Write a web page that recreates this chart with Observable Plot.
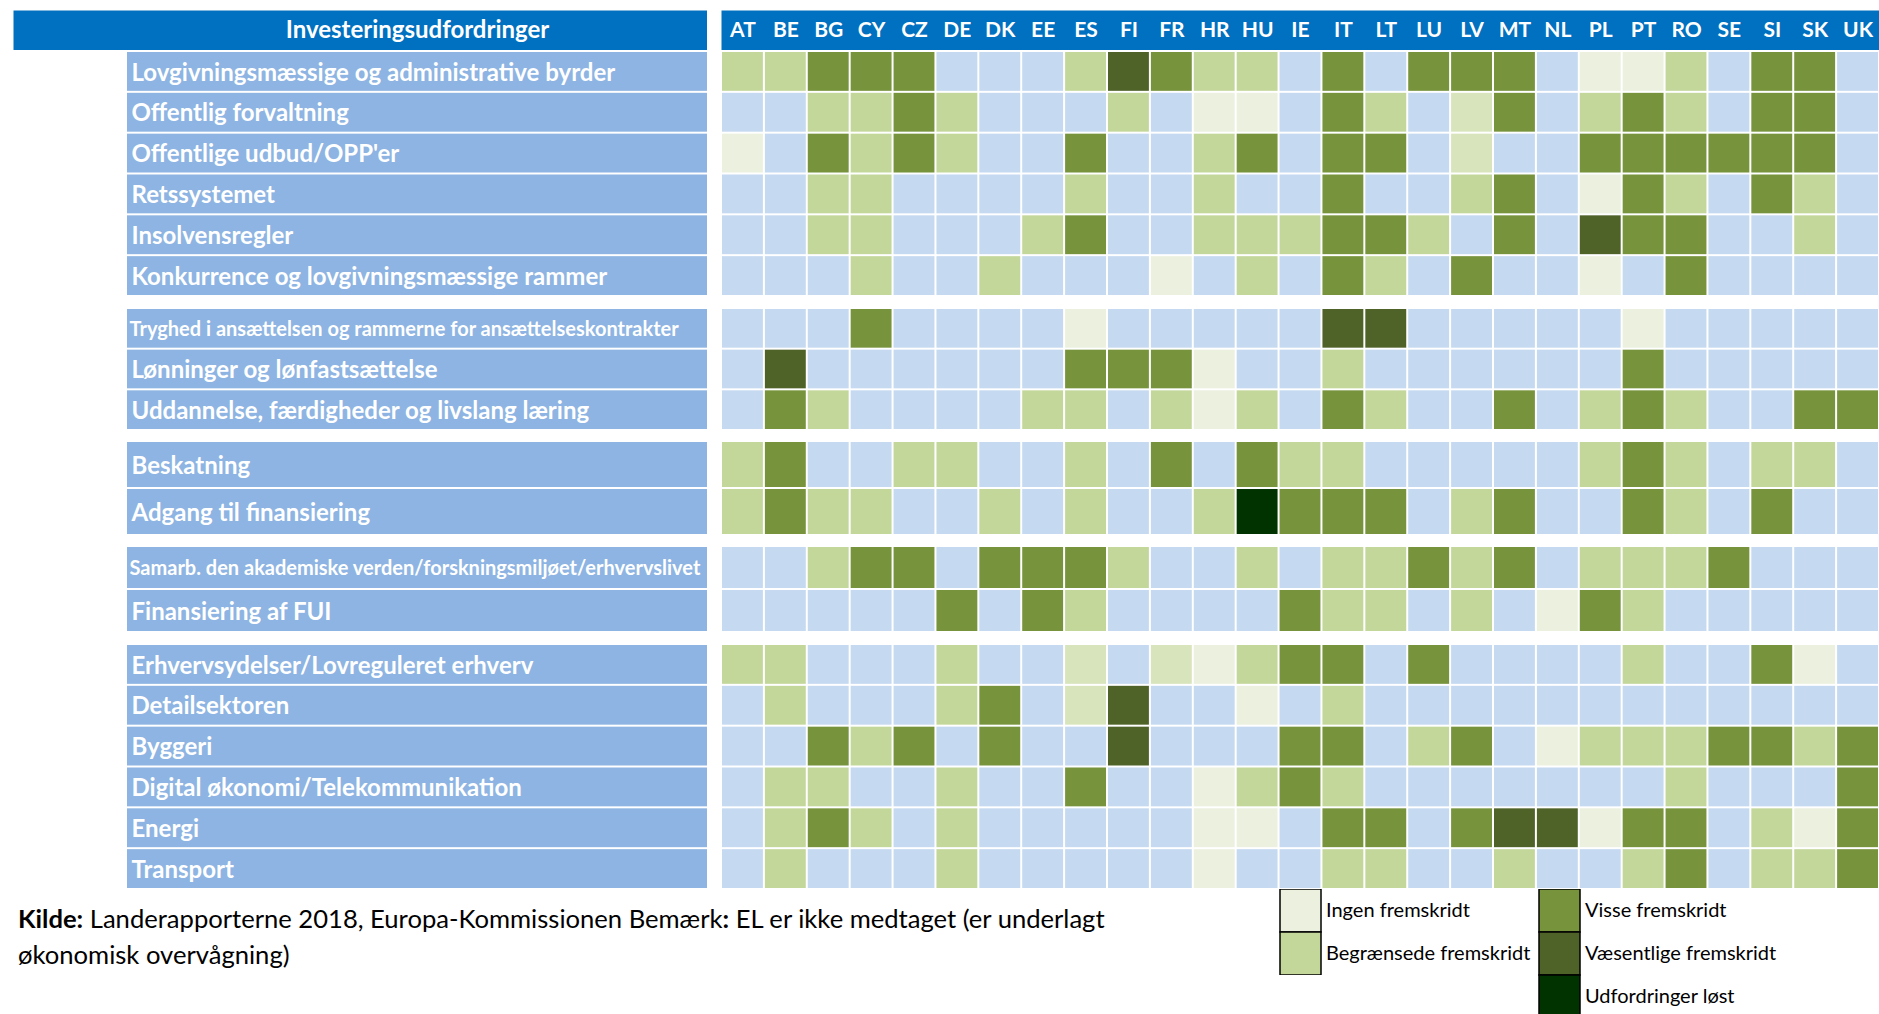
<!DOCTYPE html>
<html><head><meta charset="utf-8">
<script src="https://cdn.jsdelivr.net/npm/d3@7"></script>
<script src="https://cdn.jsdelivr.net/npm/@observablehq/plot@0.6"></script>
<style>
body{margin:0;background:#fff;}
#chart{position:relative;width:1879px;height:1014px;overflow:hidden;font-family:Lato,"Open Sans",sans-serif;}
#foot{position:absolute;left:18px;top:900px;font-size:25.6px;line-height:36px;color:#000;font-family:Lato,sans-serif;white-space:nowrap;}
</style></head><body><div id="chart"></div>
<script>
// ---------- data ----------
const countries = ["AT","BE","BG","CY","CZ","DE","DK","EE","ES","FI","FR","HR","HU","IE","IT","LT","LU","LV","MT","NL","PL","PT","RO","SE","SI","SK","UK"];
const headerTitle = "Investeringsudfordringer";

// status codes per country (same order as countries)
// "-" = no challenge, i = Ingen, h = (lighter) Begrænsede, l = Begrænsede, v = Visse, s = Væsentlige, u = Udfordringer løst
const group1Rows = ["Lovgivningsmæssige og administrative byrder","Offentlig forvaltning","Offentlige udbud/OPP'er","Retssystemet","Insolvensregler","Konkurrence og lovgivningsmæssige rammer"];
const group1Status = [
  "llvvv---lsvll-v-vvv-iil-vv-",
  "--llvl---l-ii-vl-hv-lvl-vv-",
  "i-vlvl--v--lv-vv-h--vvvvvv-",
  "--ll----l--l--v--lv-ivl-vl-",
  "--ll---lv--lllvvl-v-svv--l-",
  "---l--l---i-l-vl-v--i-v----"
];
const group2Rows = ["Tryghed i ansættelsen og rammerne for ansættelseskontrakter","Lønninger og lønfastsættelse","Uddannelse, færdigheder og livslang læring"];
const group2Status = [
  "---v----i-----ss-----i-----",
  "-s------vvvi--l------v-----",
  "-vl----ll-lil-vl--v-lvl--vv"
];
const group3Rows = ["Beskatning","Adgang til finansiering"];
const group3Status = [
  "lv--ll--l-v-vll-----lvl-ll-",
  "lvll--l-l--luvvv-lv--vl-v--"
];
const group4Rows = ["Samarb. den akademiske verden/forskningsmiljøet/erhvervslivet","Finansiering af FUI"];
const group4Status = [
  "--lvv-vvvl--l-llvlv-lllv---",
  "-----v-vl----vll-l-ivl-----"
];
const group5Rows = ["Erhvervsydelser/Lovreguleret erhverv","Detailsektoren","Byggeri","Digital økonomi/Telekommunikation","Energi","Transport"];
const group5Status = [
  "ll---l--h-hilvv-v----l--vi-",
  "-l---lv-hs--i-l------------",
  "--vlv-v--s---vv-lv-illlvvlv",
  "-ll--l--v--ilvl-------l---v",
  "-lvl-l-----ii-vv-vssivv-liv",
  "-l---l-----i--ll--l--lv-llv"
];

const statusCodes  = ["-","i","h","l","v","s","u"];
const statusColors = ["#C5D9F1","#EBF1DE","#D8E4BC","#C4D79B","#77933C","#4F6228","#003300"];

const legendCol1Codes = ["i","l"];
const legendCol1Labels = ["Ingen fremskridt","Begrænsede fremskridt"];
const legendCol2Codes = ["v","s","u"];
const legendCol2Labels = ["Visse fremskridt","Væsentlige fremskridt","Udfordringer løst"];

const footBold = "Kilde:";
const footText1 = " Landerapporterne 2018, Europa-Kommissionen Bemærk";
const footBold2 = ":";
const footText2 = " EL er ikke medtaget (er underlagt";
const footText3 = "økonomisk overvågning)";

// ---------- layout ----------
const chart = document.getElementById("chart");
function place(el, left, top){ el.style.position="absolute"; el.style.left=left+"px"; el.style.top=top+"px"; el.style.maxWidth="none"; chart.append(el); }
const colorScale = {domain: statusCodes, range: statusColors};
const FONT = "Lato";

// header left
place(Plot.plot({
  width: 694, height: 40, margin: 0,
  marks: [
    Plot.frame({fill: "#0070C0", stroke: "none"}),
    Plot.text([headerTitle], {frameAnchor: "middle", dx: 57, text: d => d, fill: "white", fontWeight: "bold", fontSize: 24, fontFamily: FONT})
  ]
}), 13, 10);

// header right
place(Plot.plot({
  width: 1158, height: 40, margin: 0,
  x: {type: "band", domain: countries, padding: 0, round: false, axis: null},
  marks: [
    Plot.frame({fill: "#0070C0", stroke: "none"}),
    Plot.text(countries, {x: d => d, text: d => d, fill: "white", fontWeight: "bold", fontSize: 21, fontFamily: FONT})
  ]
}), 721, 10);

const groups = [
  {rows: group1Rows, status: group1Status, top: 51, height: 245},
  {rows: group2Rows, status: group2Status, top: 308, height: 122},
  {rows: group3Rows, status: group3Status, top: 441, height: 94},
  {rows: group4Rows, status: group4Status, top: 546, height: 86},
  {rows: group5Rows, status: group5Status, top: 644, height: 245}
];

for (const g of groups) {
  const data = g.rows.flatMap((r, i) => countries.map((c, j) => ({row: r, country: c, code: g.status[i][j]})));
  place(Plot.plot({
    width: 1158, height: g.height, margin: 0,
    x: {type: "band", domain: countries, padding: 0, round: false, axis: null},
    y: {type: "band", domain: g.rows, padding: 0, round: false, axis: null},
    color: colorScale,
    marks: [Plot.cell(data, {x: "country", y: "row", fill: "code", inset: 1})]
  }), 721, g.top);

  const big = g.rows.filter(r => r.length < 50);
  const small = g.rows.filter(r => r.length >= 50);
  place(Plot.plot({
    width: 580, height: g.height, margin: 0,
    y: {type: "band", domain: g.rows, padding: 0, round: false, axis: null},
    marks: [
      Plot.cell(g.rows, {y: d => d, fill: "#8DB4E2", insetTop: 1, insetBottom: 1}),
      Plot.text(big, {y: d => d, text: d => d, frameAnchor: "left", dx: 4, dy: 1, fill: "white", fontWeight: "bold", fontSize: 24, fontFamily: FONT}),
      Plot.text(small, {y: d => d, text: d => d, frameAnchor: "left", dx: 2, dy: 1, fill: "white", fontWeight: "bold", fontSize: 20, fontFamily: FONT})
    ]
  }), 127, g.top);
}

// legend
function legendCol(codes, labels, left, top) {
  const items = codes.map((c, i) => ({code: c, label: labels[i]}));
  place(Plot.plot({
    width: 300, height: codes.length * 43, margin: 0,
    x: {type: "band", domain: ["box"], range: [1, 42], padding: 0, round: false, axis: null},
    y: {type: "band", domain: codes, padding: 0, round: false, axis: null},
    color: colorScale,
    marks: [
      Plot.cell(items, {x: () => "box", y: "code", fill: "code", stroke: "black", strokeWidth: 1.5}),
      Plot.text(items, {x: () => "box", y: "code", text: "label", textAnchor: "start", dx: 25, fontSize: 20, fill: "black", fontFamily: FONT})
    ]
  }), left, top);
}
legendCol(legendCol1Codes, legendCol1Labels, 1279, 889);
legendCol(legendCol2Codes, legendCol2Labels, 1538, 889);

// footer
const foot = document.createElement("div");
foot.id = "foot";
const b1 = document.createElement("b"); b1.textContent = footBold;
const b2 = document.createElement("b"); b2.textContent = footBold2;
foot.append(b1, document.createTextNode(footText1), b2, document.createTextNode(footText2), document.createElement("br"), document.createTextNode(footText3));
chart.append(foot);
</script>
</body></html>
